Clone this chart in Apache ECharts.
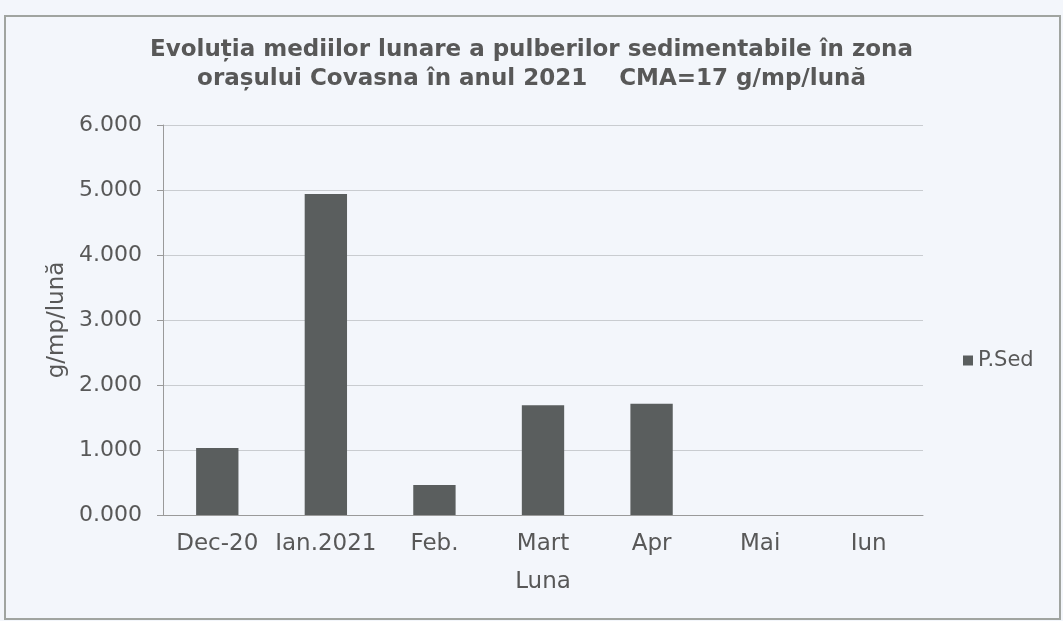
<html>
<head>
  <meta charset="utf-8" />
  <title>P.Sed Covasna 2021</title>
  <script src="https://cdn.jsdelivr.net/npm/echarts@6/dist/echarts.min.js"></script>
  <style>
    html, body { margin: 0; padding: 0; background: #f3f6fb; }
    #container { width: 1063px; height: 621px; }
  </style>
</head>
<body>
  <div id="container"></div>
  <script>
    // luni si valori (g/mp/luna)
    var luni = ['Dec-20', 'Ian.2021', 'Feb.', 'Mart', 'Apr', 'Mai', 'Iun'];
    var pSed = [1.03, 4.94, 0.46, 1.69, 1.71, 0, 0];
    var seriesName = 'P.Sed';

    var textColor = '#585858';
    var font = 'DejaVu Sans, Arial, sans-serif';

    var myChart = echarts.init(document.getElementById('container'));

    var option = {
      backgroundColor: '#f3f6fb',
      animation: false,
      title: {
        text: 'Evoluția mediilor lunare a pulberilor sedimentabile în zona\norașului Covasna în anul 2021    CMA=17 g/mp/lună',
        left: 'center',
        top: 31,
        textStyle: {
          fontFamily: font,
          fontSize: 23,
          fontWeight: 'bold',
          color: textColor,
          lineHeight: 29
        }
      },
      legend: {
        data: [seriesName],
        left: 958,
        top: 345,
        itemWidth: 10,
        itemHeight: 10,
        itemGap: 4,
        icon: 'rect',
        textStyle: { fontFamily: font, fontSize: 21, color: textColor }
      },
      grid: { left: 163, right: 140, top: 125, bottom: 106 },
      xAxis: {
        type: 'category',
        data: luni,
        name: 'Luna',
        nameLocation: 'middle',
        nameGap: 56,
        nameTextStyle: { fontFamily: font, fontSize: 23, color: textColor },
        axisLine: { lineStyle: { color: '#9a9a9a' } },
        axisTick: { show: false },
        axisLabel: { interval: 0, fontFamily: font, fontSize: 23, color: textColor, margin: 18 }
      },
      yAxis: {
        type: 'value',
        min: 0,
        max: 6,
        interval: 1,
        name: 'g/mp/lună',
        nameLocation: 'middle',
        nameGap: 94,
        nameTextStyle: { fontFamily: font, fontSize: 23, color: textColor },
        axisLine: { show: true, lineStyle: { color: '#9a9a9a' } },
        axisTick: { show: true, length: 6, lineStyle: { color: '#9a9a9a' } },
        axisLabel: {
          fontFamily: font,
          fontSize: 22,
          color: textColor,
          margin: 21,
          formatter: function (v) { return v.toFixed(3); }
        },
        splitLine: { lineStyle: { color: '#c9ccd0' } }
      },
      series: [{
        name: seriesName,
        type: 'bar',
        data: pSed,
        barWidth: '39%',
        itemStyle: { color: '#5a5e5e' }
      }],
      graphic: [{
        type: 'rect',
        shape: { x: 5, y: 16, width: 1055, height: 603 },
        style: { fill: 'none', stroke: '#a0a4a0', lineWidth: 2 }
      }]
    };

    myChart.setOption(option);
  </script>
</body>
</html>
